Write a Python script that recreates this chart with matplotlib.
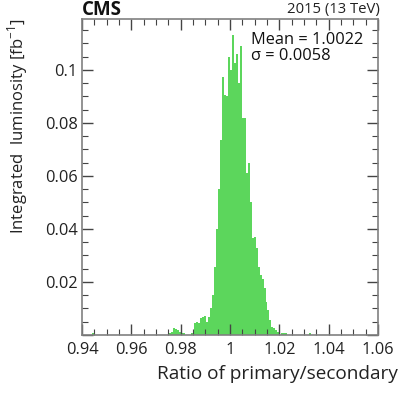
import numpy as np
import matplotlib
matplotlib.use("Agg")
import matplotlib.pyplot as plt
from matplotlib.ticker import MultipleLocator, FuncFormatter

plt.rcParams['font.family'] = ['Open Sans', 'DejaVu Sans']

# histogram: 150 bins of 0.0008 from 0.94 to 1.06, integrated luminosity per bin [fb^-1]
ratio_lo = 0.94
ratio_hi = 1.06
n_bins = 150
lumi = [
    0, 0, 0, 0, 0, 0.0009, 0, 0, 0, 0,
    0, 0, 0, 0, 0, 0, 0, 0, 0, 0,
    0, 0, 0, 0, 0, 0, 0, 0, 0, 0,
    0, 0, 0, 0, 0, 0, 0, 0, 0, 0,
    0, 0, 0, 0, 0.0009, 0.0013, 0.0026, 0.0022, 0.0018, 0.0012,
    0.0008, 0.0006, 0, 0, 0, 0.0006, 0.0012, 0.0045, 0.0050, 0.0045,
    0.0065, 0.0068, 0.0070, 0.0050, 0.0068, 0.0100, 0.0150, 0.0257, 0.0400, 0.0550,
    0.0735, 0.0974, 0.0905, 0.0900, 0.1050, 0.1000, 0.1133, 0.1025, 0.1060, 0.0950,
    0.1090, 0.0820, 0.0820, 0.0610, 0.0650, 0.0500, 0.0366, 0.0370, 0.0330, 0.0255,
    0.0225, 0.0210, 0.0177, 0.0126, 0.0094, 0.0057, 0.0031, 0.0025, 0.0018, 0.0010,
    0, 0.0006, 0.0006, 0.0006, 0, 0, 0, 0, 0, 0,
    0, 0, 0, 0, 0, 0.0006, 0, 0, 0, 0,
    0, 0, 0, 0, 0, 0, 0, 0, 0, 0,
    0, 0, 0, 0, 0, 0, 0, 0, 0, 0,
    0, 0, 0, 0, 0, 0, 0, 0, 0, 0,
]
mean_txt = 'Mean = 1.0022'
sigma_txt = 'σ = 0.0058'

edges = np.linspace(ratio_lo, ratio_hi, n_bins + 1)

fig = plt.figure(figsize=(4.11, 3.95), dpi=100)
ax = fig.add_axes([82 / 411, 60 / 395, 296 / 411, 316 / 395])

ax.stairs(lumi, edges, fill=True, color='#5cd65c', linewidth=0)

ax.set_xlim(ratio_lo, ratio_hi)
ax.set_ylim(0, 0.1192)

axis_grey = '#808080'
for sp in ax.spines.values():
    sp.set_color(axis_grey)
    sp.set_linewidth(1.2)

ax.xaxis.set_major_locator(MultipleLocator(0.02))
ax.xaxis.set_minor_locator(MultipleLocator(0.005))
ax.yaxis.set_major_locator(MultipleLocator(0.02))
ax.yaxis.set_minor_locator(MultipleLocator(0.005))


def fmt(v, pos):
    if abs(v) < 1e-9:
        return ''
    return f'{v:.2f}'.rstrip('0').rstrip('.')


def fmt_x(v, pos):
    return f'{v:.2f}'.rstrip('0').rstrip('.')


ax.xaxis.set_major_formatter(FuncFormatter(fmt_x))
ax.yaxis.set_major_formatter(FuncFormatter(fmt))
ax.tick_params(which='both', direction='in', top=True, right=True,
               color='#444444', labelsize=11.8, labelcolor='#222222')
ax.tick_params(which='major', length=8, width=1)
ax.tick_params(which='minor', length=4, width=0.8)
ax.tick_params(axis='x', pad=5)
ax.tick_params(axis='y', pad=3)

ax.set_xlabel('Ratio of primary/secondary', fontsize=13.7, color='#222222',
              loc='right')
ax.xaxis.set_label_coords(1.068, -0.095)
ax.set_ylabel('Integrated  luminosity [fb$^{\\mathregular{-1}}$]', fontsize=12,
              color='#222222', loc='top')
ax.yaxis.set_label_coords(-0.175, 1.0)

fig.text(82 / 411, 1 - 10 / 395, 'CMS', fontsize=13.5, fontweight='bold',
         va='center', ha='left', color='#111111')
fig.text(380 / 411, 1 - 10 / 395, '2015 (13 TeV)', fontsize=10.7, va='center',
         ha='right', color='#222222')
ax.text(251 / 411, 1 - 40 / 395, mean_txt, transform=fig.transFigure,
        fontsize=11.8, va='center', ha='left', color='#111111')
ax.text(251 / 411, 1 - 56 / 395, sigma_txt, transform=fig.transFigure,
        fontsize=11.8, va='center', ha='left', color='#111111')

fig.savefig('out.png', dpi=100)
